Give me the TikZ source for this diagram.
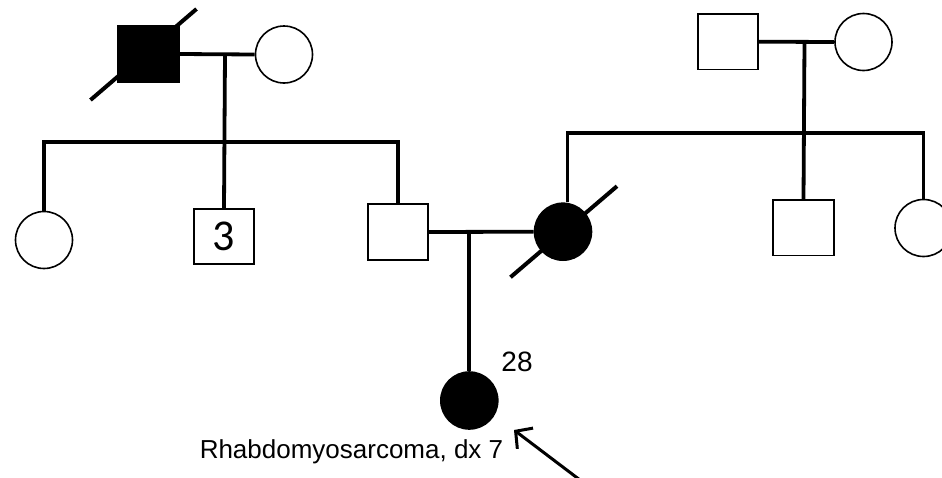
\documentclass[tikz,border=0pt]{standalone}
\usepackage{fontspec}
\newfontfamily\arialfont{Liberation Sans}
\newfontfamily\califont{Carlito}
\usepackage{tikz}
\usetikzlibrary{arrows.meta,positioning,calc}
\tikzset{
  >={Straight Barb[length=12pt,width=26pt]},
  male/.style={draw,line width=1.6pt,minimum width=60.5pt,minimum height=55.5pt,inner sep=0pt},
  female/.style={draw,circle,line width=1.6pt,minimum size=57pt,inner sep=0pt},
  affected/.style={fill=black},
  link/.style={line width=3.8pt},
  deceased/.style={line width=4pt},
  lbl/.style={font=\arialfont\fontsize{26}{30}\selectfont,inner sep=0pt},
  pointer/.style={->,line width=3pt},
}

\begin{document}
\begin{tikzpicture}[x=1pt,y=-1pt]
  \useasboundingbox (0,0) rectangle (942,477);
  % father's side
  \node[male,affected] (gf1) at (148.5,54) {};
  \node[female] (gm1) at (284,54.5) {};
  \node[female] (aunt1) at (44,240) {};
  \node[male,font=\califont\fontsize{44}{48}\selectfont] (sib3) at (224,236.5) {3};
  \node[male] (father) at (398,232) {};
  \coordinate (sib1) at (225,142);
  \draw[link] (gf1.east) -- (gm1.west);
  \draw[link] (sib1 |- gf1.east) -- (sib3.north);
  \draw[link] (aunt1.north) |- (sib1) -| (father.north);
  \draw[deceased] ($(gf1)+(-58,46)$) -- ($(gf1)+(48,-45)$);
  % mother's side
  \node[male] (gf2) at (728,41.7) {};
  \node[female] (gm2) at (863.5,42) {};
  \node[female,affected] (mother) at (563,231.7) {};
  \node[male] (uncle2) at (803.5,227.7) {};
  \node[female] (aunt2) at (923.5,228) {};
  \coordinate (sib2) at (804.5,132.7);
  \coordinate (sib2L) at (567.5,132.7);
  \draw[link] (gf2.east) -- (gm2.west);
  \draw[link] (sib2 |- gf2.east) -- (uncle2.north);
  \draw[link] (aunt2.north) |- (sib2L) -- (sib2L |- mother.north);
  \draw[deceased] ($(mother)+(-52.5,45.5)$) -- ($(mother)+(54,-45.5)$);
  % proband
  \node[female,affected] (proband) at (469.3,400.5) {};
  \draw[link] (father.east) -- (mother.west);
  \draw[link] (proband.north |- father.east) -- (proband.north);
  \node[lbl,font=\arialfont\fontsize{28}{32}\selectfont] (age) at (517,362) {28};
  \node[lbl] (dx) at (351.5,452) {Rhabdomyosarcoma, dx 7};
  \coordinate (atail) at (580,480);
  \coordinate (atip) at (514,430);
  \draw[pointer] (atail) -- (atip);
\end{tikzpicture}
\end{document}
